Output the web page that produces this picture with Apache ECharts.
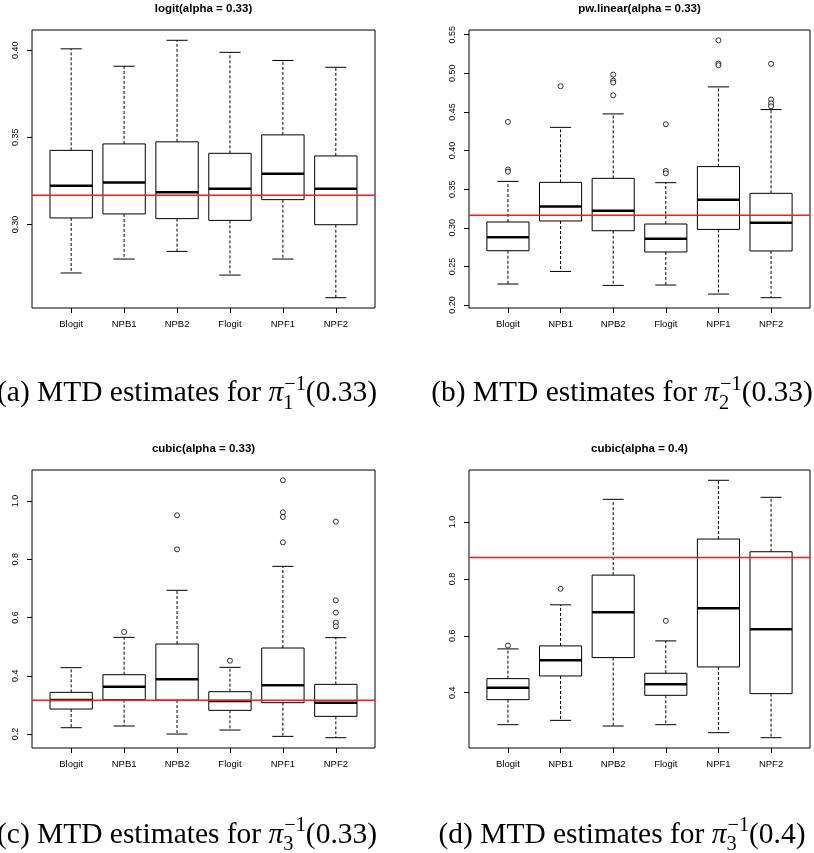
<!DOCTYPE html>
<html>
<head>
<meta charset="utf-8">
<script src="https://cdn.jsdelivr.net/npm/echarts@6/dist/echarts.min.js"></script>
<style>
html, body { margin: 0; padding: 0; background: #fff; }
#chart { width: 814px; height: 853px; }
</style>
</head>
<body>
<div id="chart"></div>
<script>
const categories = ['Blogit', 'NPB1', 'NPB2', 'Flogit', 'NPF1', 'NPF2'];

// each box: [lower whisker, Q1, median, Q3, upper whisker]
const logitBoxes = [
  [0.2721, 0.3037, 0.3222, 0.3425, 0.4008],
  [0.2801, 0.3060, 0.3241, 0.3462, 0.3908],
  [0.2845, 0.3033, 0.3184, 0.3474, 0.4057],
  [0.2709, 0.3023, 0.3205, 0.3408, 0.3988],
  [0.2801, 0.3142, 0.3291, 0.3514, 0.3941],
  [0.2579, 0.2998, 0.3205, 0.3393, 0.3902]
];
const logitOutliers = [[], [], [], [], [], []];
const logitTarget = 0.3167;
const logitTicks = [0.30, 0.35, 0.40];

const pwBoxes = [
  [0.2272, 0.2703, 0.2876, 0.3075, 0.3601],
  [0.2435, 0.3088, 0.3277, 0.3588, 0.4300],
  [0.2254, 0.2962, 0.3221, 0.3640, 0.4474],
  [0.2259, 0.2687, 0.2859, 0.3049, 0.3584],
  [0.2142, 0.2979, 0.3364, 0.3792, 0.4824],
  [0.2095, 0.2700, 0.3066, 0.3446, 0.4530]
];
const pwOutliers = [
  [0.4371, 0.3755, 0.3727],
  [0.4832],
  [0.4983, 0.4905, 0.4880, 0.4715],
  [0.4340, 0.3736, 0.3705],
  [0.5427, 0.5126, 0.5104],
  [0.5122, 0.4659, 0.4611, 0.4573]
];
const pwTarget = 0.3161;
const pwTicks = [0.20, 0.25, 0.30, 0.35, 0.40, 0.45, 0.50, 0.55];

const cubicBoxes = [
  [0.2217, 0.2858, 0.3167, 0.3431, 0.4278],
  [0.2275, 0.3179, 0.3625, 0.4037, 0.5319],
  [0.2000, 0.3167, 0.3877, 0.5090, 0.6933],
  [0.2137, 0.2813, 0.3133, 0.3453, 0.4289],
  [0.1920, 0.3076, 0.3671, 0.4953, 0.7757],
  [0.1874, 0.2607, 0.3076, 0.3705, 0.5308]
];
const cubicOutliers = [
  [],
  [0.5502],
  [0.9508, 0.8340],
  [0.4518],
  [1.0710, 0.9611, 0.9451, 0.8581],
  [0.9290, 0.6589, 0.6166, 0.5823, 0.5697]
];
const cubicTarget = 0.3156;
const cubicTicks = [0.2, 0.4, 0.6, 0.8, 1.0];

const cubic4Boxes = [
  [0.2873, 0.3753, 0.4176, 0.4493, 0.5538],
  [0.3025, 0.4587, 0.5139, 0.5644, 0.7089],
  [0.2826, 0.5233, 0.6830, 0.8134, 1.0800],
  [0.2873, 0.3906, 0.4294, 0.4681, 0.5820],
  [0.2591, 0.4904, 0.6971, 0.9402, 1.1469],
  [0.2415, 0.3965, 0.6231, 0.8956, 1.0870]
];
const cubic4Outliers = [[0.5656], [0.7652], [], [0.6525], [], []];
const cubic4Target = 0.8756;
const cubic4Ticks = [0.4, 0.6, 0.8, 1.0];

const xMin = 0.26, xMax = 6.74;

const panels = [
  { title: 'logit(alpha = 0.33)', boxes: logitBoxes, outliers: logitOutliers, target: logitTarget, ticks: logitTicks, dec: 2,
    grid: { left: 32, top: 30, width: 343, height: 278 }, cap: ['a', '1', '0.33'], capX: 187, capY: 393.5 },
  { title: 'pw.linear(alpha = 0.33)', boxes: pwBoxes, outliers: pwOutliers, target: pwTarget, ticks: pwTicks, dec: 2,
    grid: { left: 469, top: 30, width: 341, height: 278 }, cap: ['b', '2', '0.33'], capX: 622, capY: 393.5 },
  { title: 'cubic(alpha = 0.33)', boxes: cubicBoxes, outliers: cubicOutliers, target: cubicTarget, ticks: cubicTicks, dec: 1,
    grid: { left: 32, top: 470, width: 343, height: 278 }, cap: ['c', '3', '0.33'], capX: 187, capY: 835 },
  { title: 'cubic(alpha = 0.4)', boxes: cubic4Boxes, outliers: cubic4Outliers, target: cubic4Target, ticks: cubic4Ticks, dec: 1,
    grid: { left: 469, top: 470, width: 341, height: 278 }, cap: ['d', '3', '0.4'], capX: 622, capY: 835 }
];

function renderBox(params, api) {
  const x = api.value(0);
  const lo = api.coord([x, api.value(1)]);
  const q1 = api.coord([x, api.value(2)]);
  const med = api.coord([x, api.value(3)]);
  const q3 = api.coord([x, api.value(4)]);
  const hi = api.coord([x, api.value(5)]);
  const half = api.size([0.4, 0])[0];
  const cap = half / 2;
  const cx = lo[0];
  const solid = { stroke: '#000', lineWidth: 1 };
  const dash = { stroke: '#000', lineWidth: 1, lineDash: [3, 2] };
  return {
    type: 'group',
    children: [
      { type: 'line', shape: { x1: cx, y1: q3[1], x2: cx, y2: hi[1] }, style: dash },
      { type: 'line', shape: { x1: cx, y1: q1[1], x2: cx, y2: lo[1] }, style: dash },
      { type: 'line', shape: { x1: cx - cap, y1: hi[1], x2: cx + cap, y2: hi[1] }, style: solid },
      { type: 'line', shape: { x1: cx - cap, y1: lo[1], x2: cx + cap, y2: lo[1] }, style: solid },
      { type: 'rect', shape: { x: cx - half, y: q3[1], width: 2 * half, height: q1[1] - q3[1] },
        style: { fill: '#fff', stroke: '#000', lineWidth: 1 } },
      { type: 'line', shape: { x1: cx - half, y1: med[1], x2: cx + half, y2: med[1] },
        style: { stroke: '#000', lineWidth: 2.5 } }
    ]
  };
}

// caption text measured so sub/superscript can be stacked like TeX
const measure = document.createElement('canvas').getContext('2d');
function textWidth(str, font) {
  measure.font = font;
  return measure.measureText(str).width;
}
const mainFont = '29px "Liberation Serif"';
const piFont = 'italic 29px "Liberation Serif"';
const smallFont = '20px "Liberation Serif"';

function captionParts(label, sub, arg) {
  const head = '(' + label + ') MTD estimates for ';
  const tail = '(' + arg + ')';
  const wHead = textWidth(head, mainFont);
  const wPi = textWidth('\u03c0', piFont);
  const wScript = Math.max(textWidth('\u22121', smallFont), textWidth(sub, smallFont)) + 1;
  const total = wHead + wPi + wScript + textWidth(tail, mainFont);
  return { head, tail, sub, wHead, wPi, wScript, total };
}

const capScale = 380 / captionParts('a', '1', '0.33').total;

function caption(label, sub, arg, cx, cy) {
  const p = captionParts(label, sub, arg);
  const txt = (x, y, text, font) => ({
    type: 'text', x: x, y: y,
    style: { text: text, font: font, fill: '#000', textAlign: 'left', textVerticalAlign: 'middle' }
  });
  const xs = p.wHead + p.wPi;
  return {
    type: 'group',
    x: cx - p.total * capScale / 2,
    y: cy,
    scaleX: capScale,
    children: [
      txt(0, 0, p.head, mainFont),
      txt(p.wHead, 0, '\u03c0', piFont),
      txt(xs + 1, -9, '\u22121', smallFont),
      txt(xs, 10, p.sub, smallFont),
      txt(xs + p.wScript, 0, p.tail, mainFont)
    ]
  };
}

const grids = [], xAxes = [], yAxes = [], series = [], graphics = [];

panels.forEach((pn, k) => {
  const all = [];
  pn.boxes.forEach(b => { all.push(b[0], b[4]); });
  pn.outliers.forEach(list => list.forEach(v => all.push(v)));
  const lo = Math.min(...all), hi = Math.max(...all);
  const pad = (hi - lo) * 0.04;

  grids.push(Object.assign({ show: true, borderColor: '#000', borderWidth: 1, backgroundColor: 'transparent' }, pn.grid));

  xAxes.push({
    type: 'value', gridIndex: k, min: xMin, max: xMax,
    axisLine: { show: false },
    splitLine: { show: false },
    axisTick: { show: true, inside: false, length: 5, lineStyle: { color: '#000' }, customValues: [1, 2, 3, 4, 5, 6] },
    axisLabel: {
      customValues: [1, 2, 3, 4, 5, 6],
      formatter: v => categories[Math.round(v) - 1],
      fontFamily: 'Liberation Sans', fontSize: 9.5, color: '#000', margin: 11
    }
  });

  yAxes.push({
    type: 'value', gridIndex: k, min: lo - pad, max: hi + pad,
    axisLine: { show: false },
    splitLine: { show: false },
    axisTick: { show: true, inside: false, length: 5, lineStyle: { color: '#000' }, customValues: pn.ticks },
    axisLabel: {
      customValues: pn.ticks, rotate: 90,
      formatter: v => v.toFixed(pn.dec),
      fontFamily: 'Liberation Sans', fontSize: 9, color: '#000', margin: 12
    }
  });

  series.push({
    type: 'custom', xAxisIndex: k, yAxisIndex: k, z: 2,
    renderItem: renderBox,
    encode: { x: 0, y: [1, 2, 3, 4, 5] },
    data: pn.boxes.map((b, i) => [i + 1].concat(b))
  });

  const pts = [];
  pn.outliers.forEach((list, i) => list.forEach(v => pts.push([i + 1, v])));
  series.push({
    type: 'scatter', xAxisIndex: k, yAxisIndex: k, z: 5,
    symbol: 'circle', symbolSize: 5, silent: true,
    itemStyle: { color: '#fff', borderColor: '#000', borderWidth: 1 },
    data: pts
  });

  // true value as a horizontal reference line across the plot
  series.push({
    type: 'line', xAxisIndex: k, yAxisIndex: k, z: 6, silent: true,
    showSymbol: false, symbol: 'none',
    lineStyle: { color: '#ff1a1a', width: 1.5 },
    data: [[xMin, pn.target], [xMax, pn.target]]
  });

  const g = pn.grid;
  graphics.push({
    type: 'text', x: g.left + g.width / 2, y: g.top - 21,
    style: { text: pn.title, font: 'bold 11.5px "Liberation Sans"', fill: '#000', textAlign: 'center', textVerticalAlign: 'middle' }
  });
  graphics.push(caption(pn.cap[0], pn.cap[1], pn.cap[2], pn.capX, pn.capY));
});

const chart = echarts.init(document.getElementById('chart'));
chart.setOption({
  animation: false,
  backgroundColor: '#fff',
  grid: grids,
  xAxis: xAxes,
  yAxis: yAxes,
  series: series,
  graphic: graphics
});
</script>
</body>
</html>
